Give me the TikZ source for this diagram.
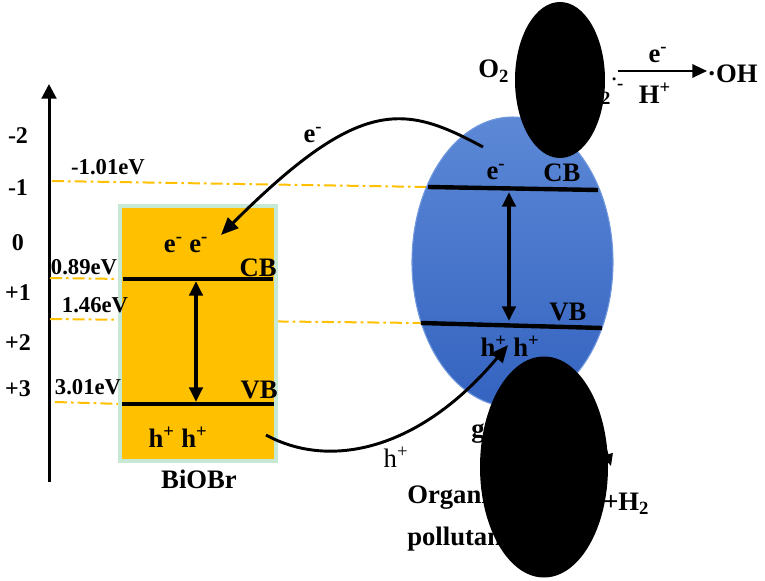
\documentclass[tikz,border=0pt]{standalone}
\usepackage{fontspec}
\setmainfont{Liberation Serif}
\usetikzlibrary{shapes.geometric, arrows.meta, positioning}

\definecolor{bandorange}{RGB}{255,192,0}
\definecolor{boxedge}{RGB}{200,232,214}
\definecolor{gcnlight}{RGB}{92,136,214}
\definecolor{gcndark}{RGB}{52,99,192}
\definecolor{gcnedge}{RGB}{112,152,222}

\begin{document}
\begin{tikzpicture}[x=0.75pt, y=-0.75pt,
        every node/.style={font=\bfseries\fontsize{20}{24}\selectfont, inner sep=0pt},
        ticklab/.style={font=\bfseries\fontsize{18}{22}\selectfont},
        evlab/.style={font=\bfseries\fontsize{17}{20}\selectfont},
        plainlab/.style={font=\mdseries\fontsize{20}{24}\selectfont},
        level/.style={draw=bandorange, line width=1.5pt, dash pattern=on 9pt off 3pt on 2pt off 3pt},
        band/.style={line width=3.3pt},
        gap/.style={{Triangle[length=11pt,width=10pt]}-{Triangle[length=11pt,width=10pt]}, line width=2.6pt},
        transfer/.style={-{Triangle[length=13pt,width=11pt]}, line width=2.2pt},
        react/.style={-{Triangle[length=11pt,width=10pt]}, line width=1.6pt},
        semi/.style={rectangle, draw=boxedge, line width=3pt, fill=bandorange, minimum width=117pt, minimum height=191pt},
        gcn/.style={ellipse, draw=gcnedge, line width=0.8pt, top color=gcnlight, bottom color=gcndark, minimum width=150.75pt, minimum height=217.5pt},
        blob/.style={ellipse, fill=black}
    ]
        \useasboundingbox (0,0) rectangle (765,581);

        % Potential axis
        \coordinate (axbot) at (49,482);
        \coordinate (axtop) at (49,84);
        \draw[-{Triangle[length=11pt,width=11pt]}, line width=2.25pt] (axbot) -- (axtop);
        \foreach \v/\y in {-2/136, -1/188, 0/243, +1/293, +2/343, +3/389}
            \node[ticklab] (tick\y) at (18,\y) {\v};

        % Levels
        \coordinate (lvA) at (52,181);
        \coordinate (lvB) at (50,278);
        \coordinate (lvC) at (50,319);
        \coordinate (lvD) at (55,402);
        \coordinate (bcbL) at (123,279);
        \coordinate (bcbR) at (273,279);
        \coordinate (bvbL) at (122,404);
        \coordinate (bvbR) at (274,404);
        \coordinate (gcbL) at (428,187);
        \coordinate (gcbR) at (598,190);
        \coordinate (gvbL) at (421,323);
        \coordinate (gvbR) at (602,328);
        \draw[level] (lvA) -- (gcbL);
        \draw[level] (lvB) -- (bcbL);
        \draw[level] (lvC) -- (gvbL);
        \draw[level] (lvD) -- (bvbL);

        % BiOBr
        \node[semi] (biobr) at (198,333.5) {};
        \draw[band] (bcbL) -- (bcbR);
        \draw[band] (bvbL) -- (bvbR);
        \draw[gap] (196,281) -- (196,402);
        \node (bee) at (186,245) {e\textsuperscript{-} e\textsuperscript{-}};
        \node[anchor=base east] (bcb) at (277,277) {CB};
        \node[anchor=base east] (bvb) at (278,398) {VB};
        \node (bhh) at (178,437) {h\textsuperscript{+} h\textsuperscript{+}};
        \node (bname) at (199,479) {BiOBr};
        \node[evlab] (evA) at (108,167) {-1.01eV};
        \node[evlab] (evB) at (84,267) {0.89eV};
        \node[evlab] (evC) at (95,305) {1.46eV};
        \node[evlab] (evD) at (88,387) {3.01eV};

        % g-C3N4
        \node[gcn] (gcnball) at (512.5,262) {};
        \draw[band] (gcbL) -- (gcbR);
        \draw[band] (gvbL) -- (gvbR);
        \draw[gap] (509,192) -- (509,321);
        \node (gee) at (496,172) {e\textsuperscript{-}};
        \node[anchor=base] (gcb) at (562,182) {CB};
        \node[anchor=base] (gvb) at (568,321) {VB};
        \node (ghh) at (510,346) {h\textsuperscript{+} h\textsuperscript{+}};

        % Charge transfer
        \coordinate (eout) at (483,147);
        \coordinate (ein) at (221,235);
        \draw[transfer] (eout) .. controls (405,105) and (361,95) .. (ein);
        \node (elab) at (313,135) {e\textsuperscript{-}};
        \coordinate (hout) at (266,435);
        \coordinate (hin) at (508,345);
        \draw[transfer] (hout) .. controls (330,470) and (420,450) .. (hin);
        \node[plainlab] (hlab) at (396,457) {h\textsuperscript{+}};

        % Reactions
        \node[anchor=base west] (o2) at (478,78) {O\textsubscript{2}};
        \node[anchor=base west] (o2rad) at (580,100) {O\textsubscript{2}\textsuperscript{\raisebox{0.25em}{·}-}};
        \coordinate (radout) at (618,71);
        \node[anchor=west] (oh) at (707,74) {·OH};
        \draw[react] (radout) -- (radout -| oh.west);
        \node (reE) at (658,55) {e\textsuperscript{-}};
        \node (reH) at (655,93) {H\textsuperscript{+}};
        \node[anchor=base west] (gname) at (471,437) {g-C\textsubscript{3}N\textsubscript{4}};
        \node[anchor=base west] (org) at (407,503) {Organic};
        \node[anchor=base west] (pol) at (407,545) {pollutants};
        \node[anchor=base west] (prod) at (603,510) {+H\textsubscript{2}};
        \coordinate (degS) at (597,420);
        \coordinate (degE) at (611,466);
        \draw[-{Triangle[length=9pt,width=8pt]}, line width=1.5pt] (degS) -- (degE);

        % Covers
        \node[blob, minimum width=67.5pt, minimum height=117pt] (covtop) at (560,80) {};
        \node[blob, minimum width=96pt, minimum height=165.75pt] (covbot) at (544,467) {};
    \end{tikzpicture}
\end{document}
